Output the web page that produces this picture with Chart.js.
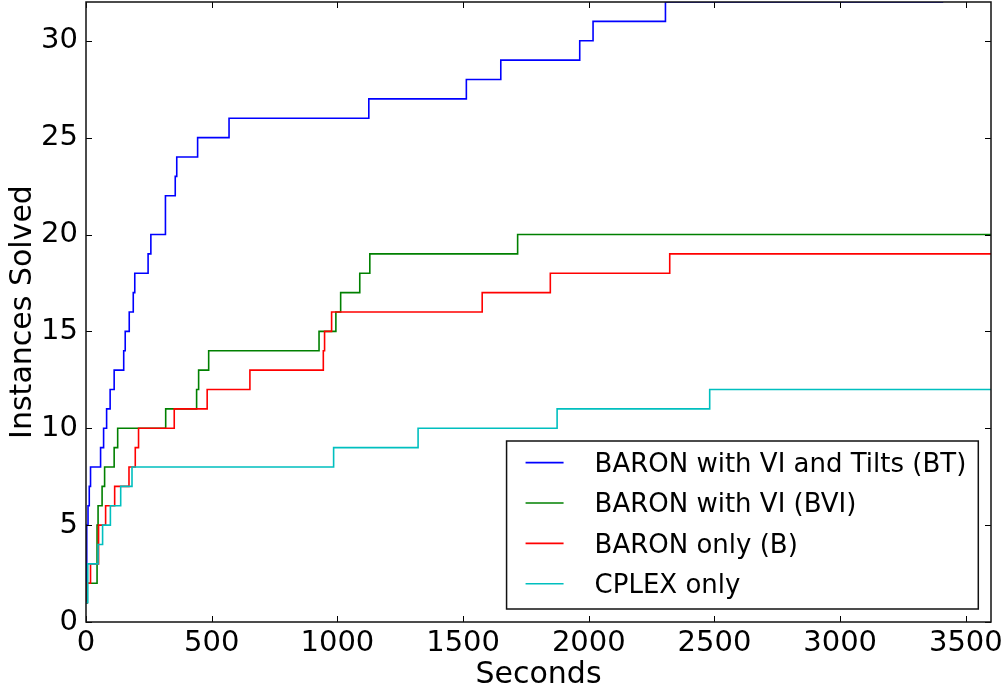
<!DOCTYPE html>
<html>
<head>
<meta charset="utf-8">
<script src="https://cdn.jsdelivr.net/npm/chart.js@4/dist/chart.umd.min.js"></script>
<style>
  html, body { margin: 0; padding: 0; background: #ffffff; }
  #wrap { width: 1008px; height: 691px; position: relative; }
  canvas { display: block; }
</style>
</head>
<body>
<div id="wrap"><canvas id="chart" width="1008" height="691"></canvas></div>
<script>
// ---- Data ----
const seriesLabels = [
  'BARON with VI and Tilts (BT)',
  'BARON with VI (BVI)',
  'BARON only (B)',
  'CPLEX only'
];
const seriesColors = ['#0000ff', '#008000', '#ff0000', '#00bfbf'];

// Seconds at which the cumulative count of solved instances changes
const btTimes  = [0, 3, 8, 13, 18, 58, 70, 82, 96, 112, 150, 156, 172, 188, 194, 247, 258, 316, 355, 361, 444, 569, 1125, 1513, 1650, 1964, 2017, 2305, 3410];
const btSolved = [1, 5, 6, 7, 8, 9, 10, 11, 12, 13, 14, 15, 16, 17, 18, 19, 20, 22, 23, 24, 25, 26, 27, 28, 29, 30, 31, 32, 32];

const bviTimes  = [0, 5, 44, 48, 64, 74, 112, 126, 317, 440, 448, 488, 927, 994, 1013, 1089, 1129, 1717, 3600];
const bviSolved = [1, 2, 5, 6, 7, 8, 9, 10, 11, 12, 13, 14, 15, 16, 17, 18, 19, 20, 20];

const bTimes  = [0, 5, 18, 50, 78, 114, 171, 196, 209, 351, 482, 652, 944, 949, 977, 1576, 1847, 2322, 3600];
const bSolved = [1, 2, 3, 5, 6, 7, 8, 9, 10, 11, 12, 13, 14, 15, 16, 17, 18, 19, 19];

const cplexTimes  = [0, 7, 48, 66, 97, 138, 183, 985, 1321, 1874, 2481, 3600];
const cplexSolved = [1, 3, 4, 5, 6, 7, 8, 9, 10, 11, 12, 12];

// Axis ranges and tick labels
const xMin = 0, xMax = 3600;
const yMin = 0, yMax = 32;
const xTickValues = [0, 500, 1000, 1500, 2000, 2500, 3000, 3500];
const yTickValues = [0, 5, 10, 15, 20, 25, 30];
const xTitle = 'Seconds';
const yTitle = 'Instances Solved';

// ---- Build datasets ----
function toPoints(times, vals) { return times.map((t, i) => ({ x: t, y: vals[i] })); }
const allTimes = [btTimes, bviTimes, bTimes, cplexTimes];
const allVals = [btSolved, bviSolved, bSolved, cplexSolved];

const datasets = seriesLabels.map((lab, i) => ({
  label: lab,
  data: toPoints(allTimes[i], allVals[i]),
  borderColor: seriesColors[i],
  backgroundColor: seriesColors[i],
  borderWidth: 1.6,
  pointRadius: 0,
  pointHoverRadius: 0,
  stepped: 'before',
  fill: false,
  order: 3 - i
}));

Chart.defaults.font.family = '"DejaVu Sans", sans-serif';
Chart.defaults.color = '#000000';

// Frame, inward ticks (matplotlib style) and in-plot legend
const framePlugin = {
  id: 'framePlugin',
  afterDatasetsDraw(chart) {
    const { ctx, chartArea: a, scales } = chart;
    const xs = scales.x, ys = scales.y;
    const tl = 6;
    ctx.save();
    ctx.strokeStyle = '#000000';
    ctx.lineWidth = 1;
    ctx.beginPath();
    xs.ticks.forEach(t => {
      const px = Math.round(xs.getPixelForValue(t.value)) + 0.5;
      ctx.moveTo(px, a.bottom); ctx.lineTo(px, a.bottom - tl);
      ctx.moveTo(px, a.top); ctx.lineTo(px, a.top + tl);
    });
    ys.ticks.forEach(t => {
      const py = Math.round(ys.getPixelForValue(t.value)) + 0.5;
      ctx.moveTo(a.left, py); ctx.lineTo(a.left + tl, py);
      ctx.moveTo(a.right, py); ctx.lineTo(a.right - tl, py);
    });
    ctx.stroke();
    ctx.lineWidth = 1.5;
    ctx.strokeStyle = '#111111';
    ctx.strokeRect(a.left, a.top, a.right - a.left, a.bottom - a.top);

    // Legend box
    const fontSize = 26;
    ctx.font = fontSize + 'px "DejaVu Sans", sans-serif';
    const ds = chart.data.datasets;
    let maxW = 0;
    ds.forEach(d => { maxW = Math.max(maxW, ctx.measureText(d.label).width); });
    const padL = 19, sampleW = 38, gap = 31, padR = 12;
    const rowH = 40.4;
    const boxW = padL + sampleW + gap + maxW + padR;
    const boxH = 168;
    const boxRight = a.right - 12.7;
    const boxBottom = a.bottom - 13;
    const bx = boxRight - boxW, by = boxBottom - boxH;
    ctx.fillStyle = '#ffffff';
    ctx.fillRect(bx, by, boxW, boxH);
    ctx.lineWidth = 1.5;
    ctx.strokeStyle = '#111111';
    ctx.strokeRect(bx, by, boxW, boxH);
    ds.forEach((d, i) => {
      const ry = by + 21.6 + i * rowH;
      ctx.strokeStyle = d.borderColor;
      ctx.lineWidth = 1.6;
      ctx.beginPath();
      ctx.moveTo(bx + padL, ry); ctx.lineTo(bx + padL + sampleW, ry);
      ctx.stroke();
      ctx.fillStyle = '#000000';
      ctx.textAlign = 'left';
      ctx.textBaseline = 'alphabetic';
      ctx.fillText(d.label, bx + padL + sampleW + gap, ry + 0.365 * fontSize);
    });
    ctx.restore();
  }
};

new Chart(document.getElementById('chart'), {
  type: 'line',
  data: { datasets },
  plugins: [framePlugin],
  options: {
    responsive: false,
    animation: false,
    events: [],
    layout: { padding: { top: 2, right: 17, left: 0, bottom: 0 } },
    plugins: {
      legend: { display: false },
      tooltip: { enabled: false },
      title: { display: false }
    },
    scales: {
      x: {
        type: 'linear',
        min: xMin, max: xMax,
        grid: { display: false, drawTicks: false, tickLength: 0 },
        border: { display: false },
        afterBuildTicks(scale) { scale.ticks = xTickValues.map(v => ({ value: v })); },
        ticks: {
          autoSkip: false,
          maxRotation: 0, minRotation: 0,
          callback: (v) => String(v),
          font: { size: 29 }, color: '#000000', padding: 4
        },
        title: { display: true, text: xTitle, font: { size: 30 }, color: '#000000', padding: { top: 0, bottom: -2 } },
        afterFit(scale) { scale.height = 69; scale.paddingLeft = 0; scale.paddingRight = 0; }
      },
      y: {
        type: 'linear',
        min: yMin, max: yMax,
        grid: { display: false, drawTicks: false, tickLength: 0 },
        border: { display: false },
        afterBuildTicks(scale) { scale.ticks = yTickValues.map(v => ({ value: v })); },
        ticks: {
          autoSkip: false,
          callback: (v) => String(v),
          font: { size: 29 }, color: '#000000', padding: 8
        },
        title: { display: true, text: yTitle, font: { size: 30 }, color: '#000000', padding: { top: 5, bottom: 0 } },
        afterFit(scale) { scale.width = 86; scale.paddingTop = 0; scale.paddingBottom = 0; }
      }
    }
  }
});
</script>
</body>
</html>
